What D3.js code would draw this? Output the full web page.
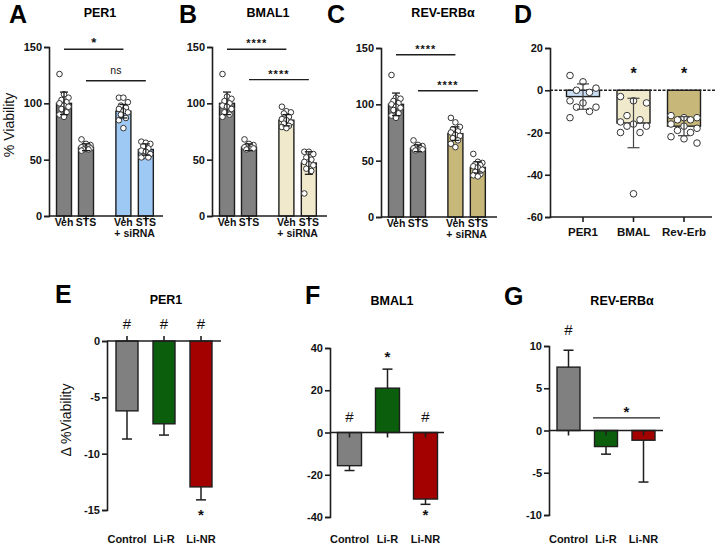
<!DOCTYPE html>
<html>
<head>
<meta charset="utf-8">
<script src="https://cdn.jsdelivr.net/npm/d3@7"></script>
<style>
  html, body { margin: 0; padding: 0; background: #fff; }
  svg { display: block; font-family: "Liberation Sans", Arial, sans-serif; }
</style>
</head>
<body>
<svg id="chart" width="720" height="548"></svg>
<script>
// ---------------- DATA ----------------
const topCategories = ["Veh", "STS", "Veh", "STS"];
const topSubLabel = "+ siRNA";
const yTicksTop = [0, 50, 100, 150];

const per1Means = [100, 61, 93, 59];
const per1SD = [10, 3, 6, 5];
const per1Points = [
  [126, 108, 105, 103, 101, 100, 98, 97, 95, 92, 90, 88],
  [68, 64, 63, 62, 62, 61, 60, 60, 59, 59, 58],
  [105, 105, 101, 98, 96, 95, 93, 92, 90, 87, 85, 78],
  [66, 65, 64, 62, 60, 58, 57, 55, 53, 52, 52]
];
const per1Sig = ["*", "ns"];

const bmalMeans = [100, 61, 85, 47];
const bmalSD = [10, 3, 5, 10];
const bmalPoints = [
  [126, 106, 104, 102, 100, 98, 97, 95, 92, 90, 88],
  [68, 64, 63, 62, 61, 61, 60, 60, 59],
  [97, 93, 92, 91, 88, 86, 85, 83, 82, 80, 79, 78],
  [57, 57, 55, 52, 50, 48, 46, 45, 42, 40, 20]
];
const bmalSig = ["****", "****"];

const revMeans = [100, 61, 74, 44];
const revSD = [10, 3, 6, 5];
const revPoints = [
  [126, 106, 105, 103, 101, 100, 98, 97, 95, 92, 90, 88],
  [68, 64, 63, 62, 61, 61, 60, 60, 59],
  [88, 84, 80, 78, 76, 75, 73, 72, 70, 68, 65, 62],
  [56, 49, 48, 47, 46, 45, 44, 42, 40, 38, 37, 36]
];
const revSig = ["****", "****"];

const dCategories = ["PER1", "BMAL", "Rev-Erb"];
const dMeans = [-3, -15.5, -17];
const dSD = [6, 11.7, 4.5];
const dPoints = [
  [7, 4, 1, 0, -1, -5, -6, -8, -8, -10, -13],
  [-3, -5, -6, -12, -14, -15, -16, -17, -17, -20, -20, -49],
  [-12, -13, -13, -14, -14, -16, -17, -18, -19, -20, -22, -23, -25]
];
const dSig = ["", "*", "*"];
const yTicksD = [-60, -40, -20, 0, 20];

const lowCategories = ["Control", "Li-R", "Li-NR"];
const ePer1Means = [-6.2, -7.35, -12.95];
const ePer1Err = [2.5, 1.0, 1.15];
const yTicksE = [-15, -10, -5, 0];
const fBmalMeans = [-15.7, 21, -31.5];
const fBmalErr = [2.3, 9, 2.5];
const yTicksF = [-40, -20, 0, 20, 40];
const gRevMeans = [7.5, -1.9, -1.15];
const gRevErr = [2.0, 0.9, 4.95];
const yTicksG = [-10, -5, 0, 5, 10];

// ---------------- STYLE ----------------
const INK = "#1e1e1e";
const GRAY = "#808080";
const BLUE = "#9ec9f4";
const BEIGE = "#f0e9cb";
const KHAKI = "#c7b779";
const LBLUE = "#c9def3";
const GREEN = "#0b5e0b";
const RED = "#a30000";

const svg = d3.select("#chart");

function panelLetter(t, x, y) {
  svg.append("text").attr("x", x).attr("y", y).attr("font-size", 25)
    .attr("font-weight", "bold").attr("fill", "#000").text(t);
}
function title(t, x, y) {
  svg.append("text").attr("x", x).attr("y", y).attr("text-anchor", "middle")
    .attr("font-size", 12.5).attr("font-weight", "bold").attr("fill", "#000").text(t);
}
function yAxis(g, y, x0, ticks) {
  const ax = d3.axisLeft(y).tickValues(ticks).tickSize(5).tickPadding(2).tickFormat(d3.format("d"));
  const a = g.append("g").attr("transform", `translate(${x0},0)`).call(ax);
  a.select(".domain").attr("stroke", INK).attr("stroke-width", 1.6);
  a.selectAll(".tick line").attr("stroke", INK).attr("stroke-width", 1.6);
  a.selectAll(".tick text").attr("font-size", 11).attr("font-weight", "bold")
    .attr("fill", "#111").attr("font-family", "Liberation Sans, Arial, sans-serif")
    .text(d => d < 0 ? "-" + Math.abs(d) : d);
  return a;
}
const jitterTop = [-4.5, 0, 4.5, -2.5, 2.5];
const jitterD = [-13, 0, 13, -6.5, 6.5];

// ---------------- TOP PANELS A-C ----------------
function topPanel(cfg) {
  const g = svg.append("g");
  const y = d3.scaleLinear().domain([0, 150]).range([cfg.yb, cfg.yt]);
  const slot = d3.scaleLinear().domain([0, 1]).range([cfg.x0 + 15, cfg.x0 + 37]);
  const xpos = [0, 1, 2.7, 3.72];
  const bw = 15;
  const cx = i => slot(xpos[i]);

  cfg.means.forEach((m, i) => {
    g.append("rect").attr("x", cx(i) - bw / 2).attr("y", y(m)).attr("width", bw)
      .attr("height", y(0) - y(m)).attr("fill", i < 2 ? GRAY : cfg.color)
      .attr("stroke", INK).attr("stroke-width", 1.4);
  });
  cfg.points.forEach((arr, i) => {
    arr.forEach((v, j) => {
      g.append("circle").attr("cx", cx(i) + jitterTop[j % 5]).attr("cy", y(v)).attr("r", 2.8)
        .attr("fill", "#fff").attr("stroke", "#333").attr("stroke-width", 1);
    });
  });
  cfg.means.forEach((m, i) => {
    const s = cfg.sd[i];
    g.append("line").attr("x1", cx(i)).attr("x2", cx(i)).attr("y1", y(m - s)).attr("y2", y(m + s))
      .attr("stroke", INK).attr("stroke-width", 1.3);
    [m - s, m + s].forEach(v => g.append("line").attr("x1", cx(i) - 4).attr("x2", cx(i) + 4)
      .attr("y1", y(v)).attr("y2", y(v)).attr("stroke", INK).attr("stroke-width", 1.3));
  });
  yAxis(g, y, cfg.x0, yTicksTop);
  g.append("line").attr("x1", cfg.x0).attr("x2", cfg.xr).attr("y1", y(0)).attr("y2", y(0))
    .attr("stroke", INK).attr("stroke-width", 1.6);
  topCategories.forEach((c, i) => {
    g.append("line").attr("x1", cx(i)).attr("x2", cx(i)).attr("y1", y(0)).attr("y2", y(0) + 5)
      .attr("stroke", INK).attr("stroke-width", 1.6);
    g.append("text").attr("x", cx(i)).attr("y", y(0) + 10).attr("text-anchor", "middle")
      .attr("font-size", 10.5).attr("font-weight", "bold").attr("fill", "#111").text(c);
  });
  g.append("text").attr("x", (cx(2) + cx(3)) / 2).attr("y", y(0) + 21).attr("text-anchor", "middle")
    .attr("font-size", 10.5).attr("font-weight", "bold").attr("fill", "#111").text(topSubLabel);
  const pairs = [[0, 2], [1, 3]];
  pairs.forEach((p, k) => {
    const ly = y(cfg.sigY[k]);
    g.append("line").attr("x1", cx(p[0])).attr("x2", cx(p[1])).attr("y1", ly).attr("y2", ly)
      .attr("stroke", INK).attr("stroke-width", 1.4);
    const t = cfg.sig[k];
    g.append("text").attr("x", (cx(p[0]) + cx(p[1])) / 2)
      .attr("y", t === "ns" ? ly - 7 : ly - 2)
      .attr("text-anchor", "middle").attr("font-size", t === "ns" ? 10.5 : (t === "*" ? 13 : 11))
      .attr("font-weight", t === "ns" ? "normal" : "bold").attr("fill", "#111")
      .attr("letter-spacing", t.length > 1 && t !== "ns" ? 1 : 0).text(t);
  });
}

topPanel({ x0: 49, xr: 163, yt: 47, yb: 216, means: per1Means, sd: per1SD, points: per1Points,
  color: BLUE, sig: per1Sig, sigY: [148, 120] });
topPanel({ x0: 212, xr: 327, yt: 47, yb: 216, means: bmalMeans, sd: bmalSD, points: bmalPoints,
  color: BEIGE, sig: bmalSig, sigY: [148, 121] });
topPanel({ x0: 381, xr: 497, yt: 48, yb: 217, means: revMeans, sd: revSD, points: revPoints,
  color: KHAKI, sig: revSig, sigY: [144, 112] });

panelLetter("A", 9, 23); title("PER1", 100, 17);
panelLetter("B", 179, 23); title("BMAL1", 268, 17);
panelLetter("C", 327, 23); title("REV-ERBα", 443, 17);
panelLetter("D", 514, 23);

svg.append("text").attr("transform", "translate(14,125) rotate(-90)").attr("text-anchor", "middle")
  .attr("font-size", 14).attr("fill", "#111").text("% Viability");

// ---------------- PANEL D ----------------
(function () {
  const g = svg.append("g");
  const x0 = 550, xr = 716;
  const y = d3.scaleLinear().domain([-60, 20]).range([217, 48]);
  const x = d3.scalePoint().domain(dCategories).range([583, 684]);
  const bw = 33;
  const colors = [LBLUE, BEIGE, KHAKI];
  dMeans.forEach((m, i) => {
    const c = x(dCategories[i]);
    g.append("rect").attr("x", c - bw / 2).attr("y", y(0)).attr("width", bw)
      .attr("height", y(m) - y(0)).attr("fill", colors[i]).attr("stroke", INK).attr("stroke-width", 1.4);
  });
  g.append("line").attr("x1", x0).attr("x2", xr).attr("y1", y(0)).attr("y2", y(0))
    .attr("stroke", INK).attr("stroke-width", 1.4).attr("stroke-dasharray", "3,1.5");
  dPoints.forEach((arr, i) => {
    const c = x(dCategories[i]);
    arr.forEach((v, j) => {
      g.append("circle").attr("cx", c + jitterD[j % 5]).attr("cy", y(v)).attr("r", 3.3)
        .attr("fill", "#fff").attr("stroke", "#333").attr("stroke-width", 1);
    });
  });
  dMeans.forEach((m, i) => {
    const c = x(dCategories[i]), s = dSD[i];
    g.append("line").attr("x1", c).attr("x2", c).attr("y1", y(m - s)).attr("y2", y(m + s))
      .attr("stroke", "#444").attr("stroke-width", 1.2);
    [m - s, m + s].forEach(v => g.append("line").attr("x1", c - 6).attr("x2", c + 6)
      .attr("y1", y(v)).attr("y2", y(v)).attr("stroke", "#444").attr("stroke-width", 1.2));
    if (dSig[i]) g.append("text").attr("x", c).attr("y", y(9.5) + 9).attr("text-anchor", "middle")
      .attr("font-size", 16).attr("font-weight", "bold").attr("fill", "#111").text(dSig[i]);
  });
  yAxis(g, y, x0, yTicksD);
  g.append("line").attr("x1", x0).attr("x2", 712).attr("y1", y(-60)).attr("y2", y(-60))
    .attr("stroke", INK).attr("stroke-width", 1.6);
  dCategories.forEach(c => {
    g.append("line").attr("x1", x(c)).attr("x2", x(c)).attr("y1", y(-60)).attr("y2", y(-60) + 5)
      .attr("stroke", INK).attr("stroke-width", 1.6);
    g.append("text").attr("x", x(c)).attr("y", y(-60) + 19).attr("text-anchor", "middle")
      .attr("font-size", 11.5).attr("font-weight", "bold").attr("fill", "#111").text(c);
  });
})();

// ---------------- LOWER PANELS E-G ----------------
function lowPanel(cfg) {
  const g = svg.append("g");
  const y = d3.scaleLinear().domain(cfg.domain).range([cfg.yb, cfg.yt]);
  const x = d3.scalePoint().domain(lowCategories).range(cfg.centers);
  const bw = cfg.bw;
  const colors = [GRAY, GREEN, RED];
  cfg.means.forEach((m, i) => {
    const c = x(lowCategories[i]);
    const e = cfg.err[i];
    const tip = m + (m >= 0 ? e : -e);
    g.append("line").attr("x1", c).attr("x2", c).attr("y1", y(m)).attr("y2", y(tip))
      .attr("stroke", INK).attr("stroke-width", 1.5);
    g.append("line").attr("x1", c - 5).attr("x2", c + 5).attr("y1", y(tip)).attr("y2", y(tip))
      .attr("stroke", INK).attr("stroke-width", 1.5);
    g.append("rect").attr("x", c - bw / 2).attr("y", Math.min(y(m), y(0))).attr("width", bw)
      .attr("height", Math.abs(y(m) - y(0))).attr("fill", colors[i]).attr("stroke", INK).attr("stroke-width", 1.4);
  });
  yAxis(g, y, cfg.x0, cfg.ticks);
  g.append("line").attr("x1", cfg.x0).attr("x2", cfg.xr).attr("y1", y(0)).attr("y2", y(0))
    .attr("stroke", INK).attr("stroke-width", 1.6);
  lowCategories.forEach(c => {
    g.append("line").attr("x1", x(c)).attr("x2", x(c)).attr("y1", y(0)).attr("y2", y(0) + cfg.tickDir * 5)
      .attr("stroke", INK).attr("stroke-width", 1.6);
    g.append("text").attr("x", x(c)).attr("y", cfg.labelY).attr("text-anchor", "middle")
      .attr("font-size", 11).attr("font-weight", "bold").attr("fill", "#111").text(c);
  });
  cfg.marks.forEach(mk => {
    g.append("text").attr("x", x(lowCategories[mk[0]])).attr("y", y(mk[1])).attr("text-anchor", "middle")
      .attr("font-size", 15).attr("font-weight", mk[2] === "#" ? "normal" : "bold")
      .attr("fill", "#111").text(mk[2]);
  });
  if (cfg.bracket) {
    const b = cfg.bracket;
    g.append("line").attr("x1", b.x1).attr("x2", b.x2).attr("y1", y(b.v)).attr("y2", y(b.v))
      .attr("stroke", INK).attr("stroke-width", 1.4);
    g.append("text").attr("x", (b.x1 + b.x2) / 2).attr("y", y(b.v) - 1).attr("text-anchor", "middle")
      .attr("font-size", 15).attr("font-weight", "bold").attr("fill", "#111").text("*");
  }
}

lowPanel({ x0: 107, xr: 221, yt: 341, yb: 510, domain: [-15, 0], ticks: yTicksE,
  centers: [127, 201], bw: 22, means: ePer1Means, err: ePer1Err, tickDir: -1, labelY: 543,
  marks: [[0, 1.05, "#"], [1, 1.05, "#"], [2, 1.05, "#"], [2, -15.85, "*"]] });
lowPanel({ x0: 330, xr: 444, yt: 348, yb: 517, domain: [-40, 40], ticks: yTicksF,
  centers: [349.5, 425.5], bw: 24, means: fBmalMeans, err: fBmalErr, tickDir: 1, labelY: 543,
  marks: [[0, 4.8, "#"], [2, 4.8, "#"], [1, 33.5, "*"], [2, -41.5, "*"]] });
lowPanel({ x0: 549, xr: 663, yt: 346, yb: 515, domain: [-10, 10], ticks: yTicksG,
  centers: [568.5, 643.5], bw: 23, means: gRevMeans, err: gRevErr, tickDir: 1, labelY: 543,
  marks: [[0, 11.3, "#"]], bracket: { x1: 593, x2: 660, v: 1.5 } });

panelLetter("E", 55, 303); title("PER1", 166, 304);
panelLetter("F", 305, 304); title("BMAL1", 392, 305);
panelLetter("G", 504, 305); title("REV-ERBα", 622, 305);

svg.append("text").attr("transform", "translate(71,420) rotate(-90)").attr("text-anchor", "middle")
  .attr("font-size", 14).attr("fill", "#111").text("Δ %Viability");
</script>
</body>
</html>
